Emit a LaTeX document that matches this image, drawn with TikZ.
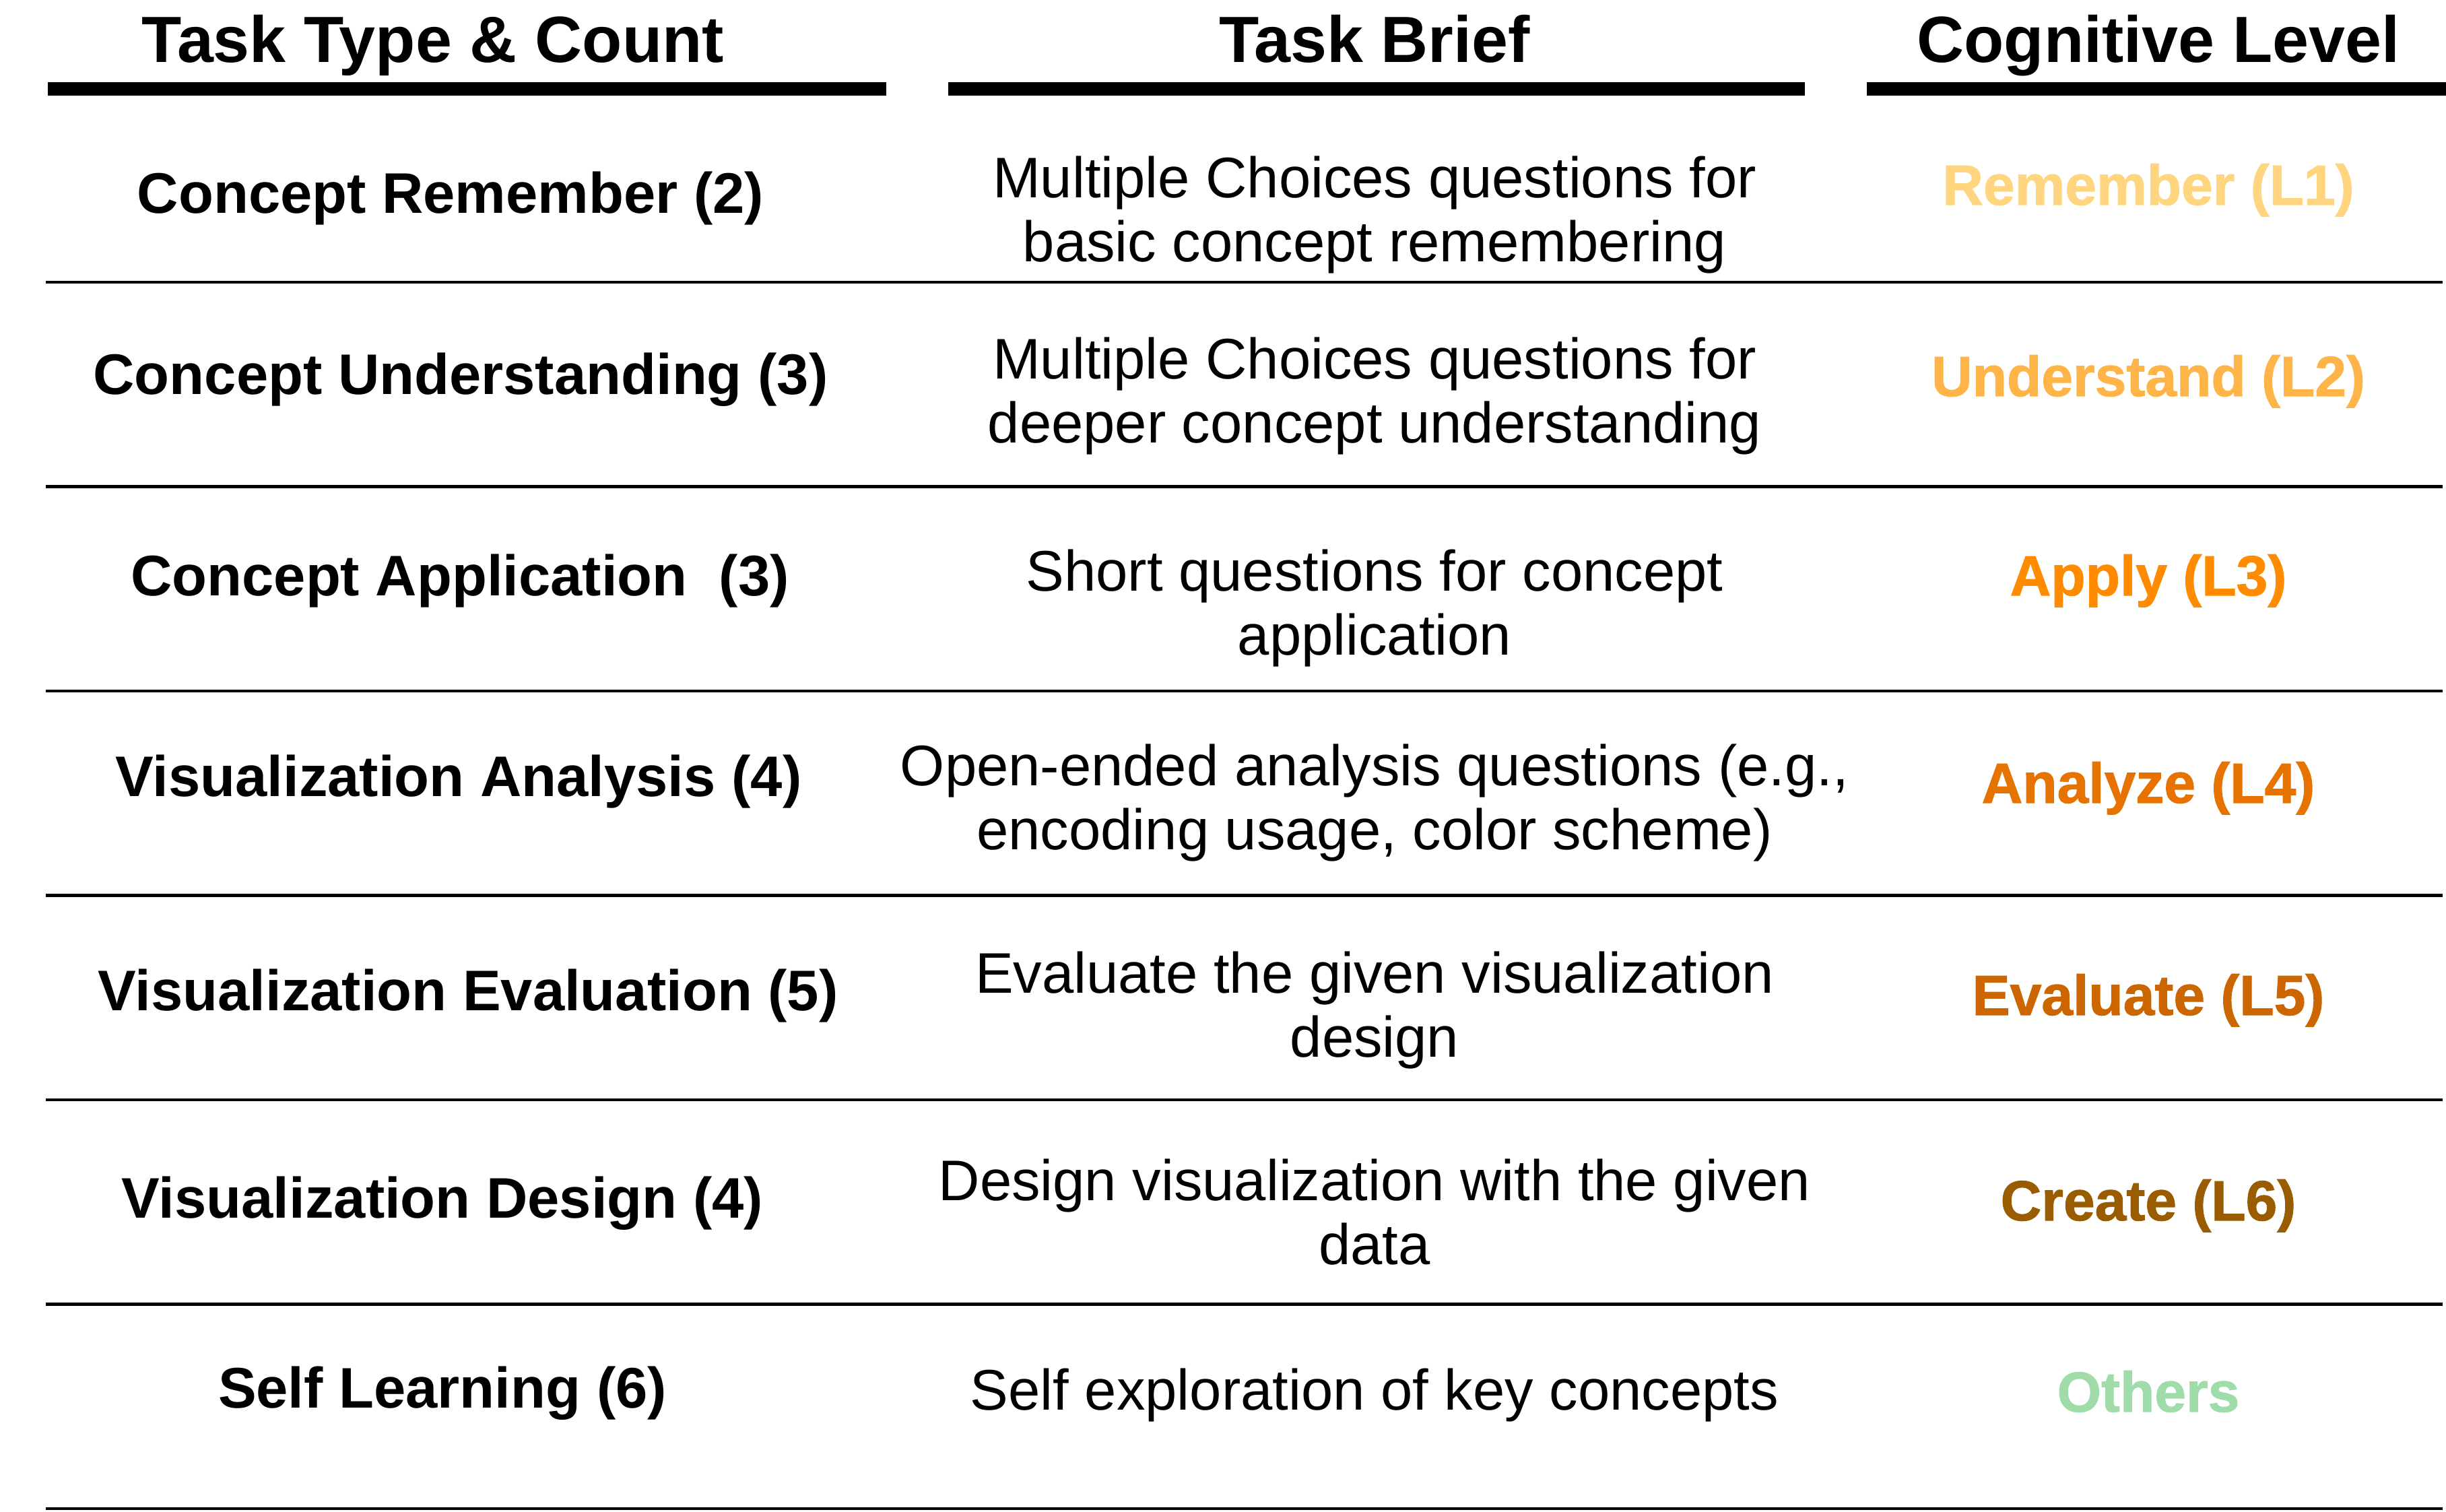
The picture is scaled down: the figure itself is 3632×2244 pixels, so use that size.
\documentclass[tikz,border=0pt]{standalone}
\usepackage{fontspec}
\setmainfont{Liberation Sans}
\newfontfamily\lvlfont{Liberation Sans}[BoldFeatures={FakeBold=1.2}]
\usetikzlibrary{positioning}
\definecolor{myrem}{RGB}{255,213,128}
\definecolor{myund}{RGB}{255,180,72}
\definecolor{myapp}{RGB}{255,140,0}
\definecolor{myana}{RGB}{230,115,0}
\definecolor{myeva}{RGB}{204,102,0}
\definecolor{mycre}{RGB}{153,92,0}
\definecolor{myoth}{RGB}{160,220,170}

\begin{document}
\begin{tikzpicture}[x=1pt,y=-1pt,
  hdr/.style={anchor=base,font=\bfseries\fontsize{97}{110}\selectfont},
  task/.style={anchor=base,font=\bfseries\fontsize{85}{95}\selectfont},
  brief/.style={anchor=base,align=center,font=\fontsize{85}{95}\selectfont},
  lvl/.style={anchor=base,font=\lvlfont\bfseries\fontsize{84}{95}\selectfont},
  hrule/.style={line width=20pt},
  rrule/.style={line width=4.5pt}]

  \useasboundingbox (0,0) rectangle (3632,2244);

  % header
  \node[hdr] (htask) at (643,92) {Task Type \& Count};
  \node[hdr] (hbrief) at (2041,92) {Task Brief};
  \node[hdr] (hlevel) at (3205,92) {Cognitive Level};
  \draw[hrule] (71,132) -- (1316,132);
  \draw[hrule] (1408,132) -- (2680,132);
  \draw[hrule] (2772,132) -- (3632,132);

  % rows (brief y = baseline of its last line)
  \foreach \i/\tx/\ty/\by/\ly/\ta/\br/\lv/\col in {
    1/669/316/388/304/{Concept Remember (2)}/{Multiple Choices questions for\\basic concept remembering}/{Remember (L1)}/myrem,
    2/684/585/657/588/{Concept Understanding (3)}/{Multiple Choices questions for\\deeper concept understanding}/{Understand (L2)}/myund,
    3/683/884/972/884/{Concept Application\ \ (3)}/{Short questions for concept\\application}/{Apply (L3)}/myapp,
    4/681/1182/1261/1192/{Visualization Analysis (4)}/{Open-ended analysis questions (e.g.,\\encoding usage, color scheme)}/{Analyze (L4)}/myana,
    5/695/1500/1569/1507/{Visualization Evaluation (5)}/{Evaluate the given visualization\\design}/{Evaluate (L5)}/myeva,
    6/657/1808/1877/1812/{Visualization Design (4)}/{Design visualization with the given\\data}/{Create (L6)}/mycre,
    7/657/2090/2093/2096/{Self Learning (6)}/{Self exploration of key concepts}/{Others}/myoth}{
    \node[task] (t\i) at (\tx,\ty) {\ta};
    \node[brief] (b\i) at (2041,\by) {\br};
    \node[lvl,text=\col] (l\i) at (3190,\ly) {\lv};
    \draw[rrule] (68,115.5+303.5*\i) -- (3627,115.5+303.5*\i);
  }
\end{tikzpicture}
\end{document}
